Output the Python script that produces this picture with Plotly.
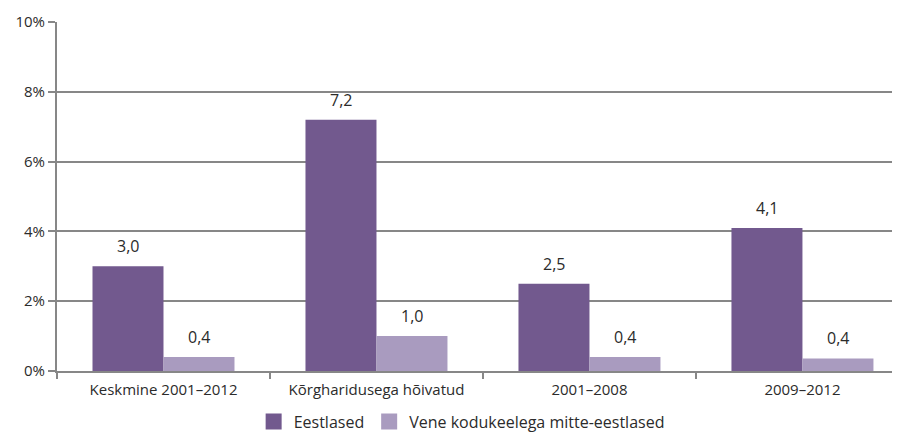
import plotly.graph_objects as go

categories = ["Keskmine 2001–2012", "Kõrgharidusega hõivatud", "2001–2008", "2009–2012"]
eestlased = [3.0, 7.2, 2.5, 4.1]
vene = [0.4, 1.0, 0.4, 0.36]
series_names = ["Eestlased", "Vene kodukeelega mitte-eestlased"]
y_ticks = [0, 2, 4, 6, 8, 10]
y_ticktext = ["0%", "2%", "4%", "6%", "8%", "10%"]

FONT = "'Open Sans', sans-serif"
TXT = "#2b2b2b"
GRID = "#878787"
COLORS = ["#72598e", "#a99bbf"]

fig = go.Figure()
for vals, name, col in zip([eestlased, vene], series_names, COLORS):
    fig.add_trace(go.Bar(
        x=categories, y=vals, name=name, showlegend=False,
        marker=dict(color=col, line=dict(width=0)),
        hoverinfo="skip",
    ))
# legend entries with larger square swatches
for name, col in zip(series_names, COLORS):
    fig.add_trace(go.Scatter(
        x=[None], y=[None], mode="markers", name=name,
        marker=dict(symbol="square", size=20, color=col, line=dict(width=0)),
        hoverinfo="skip",
    ))

# value labels above the bars
offsets = [-1/6, 1/6]
for vals, off in zip([eestlased, vene], offsets):
    for i, v in enumerate(vals):
        fig.add_annotation(
            x=i + off, y=v, xref="x", yref="y",
            text=f"{v:.1f}".replace(".", ","),
            showarrow=False, yanchor="bottom", yshift=7,
            font=dict(size=16, color=TXT, family=FONT),
        )

fig.update_layout(
    width=892, height=431,
    margin=dict(l=49, r=0, t=14, b=68),
    paper_bgcolor="white", plot_bgcolor="white",
    barmode="group", bargap=1/3, bargroupgap=0,
    font=dict(family=FONT, size=15, color=TXT),
    showlegend=True,
    legend=dict(orientation="h", x=0.48, xanchor="center", y=-0.145, yanchor="middle",
                font=dict(size=16, color=TXT, family=FONT), traceorder="normal",
                itemsizing="trace", tracegroupgap=0),
    xaxis=dict(
        range=[-0.5, 3.458], showline=True, linecolor=GRID, linewidth=2,
        ticks="outside", tickson="boundaries", ticklen=6, tickcolor=GRID, tickwidth=2,
        tickfont=dict(size=15, color=TXT, family=FONT), showgrid=False,
        automargin=False, ticklabelstandoff=4,
    ),
    yaxis=dict(
        range=[0, 10], tickmode="array", tickvals=y_ticks, ticktext=y_ticktext,
        showline=True, linecolor=GRID, linewidth=2,
        ticks="outside", ticklen=7, tickcolor=GRID, tickwidth=2,
        showgrid=True, gridcolor=GRID, gridwidth=2, zeroline=False,
        tickfont=dict(size=15, color=TXT, family=FONT), automargin=False,
    ),
)

fig.write_html("out.html")
